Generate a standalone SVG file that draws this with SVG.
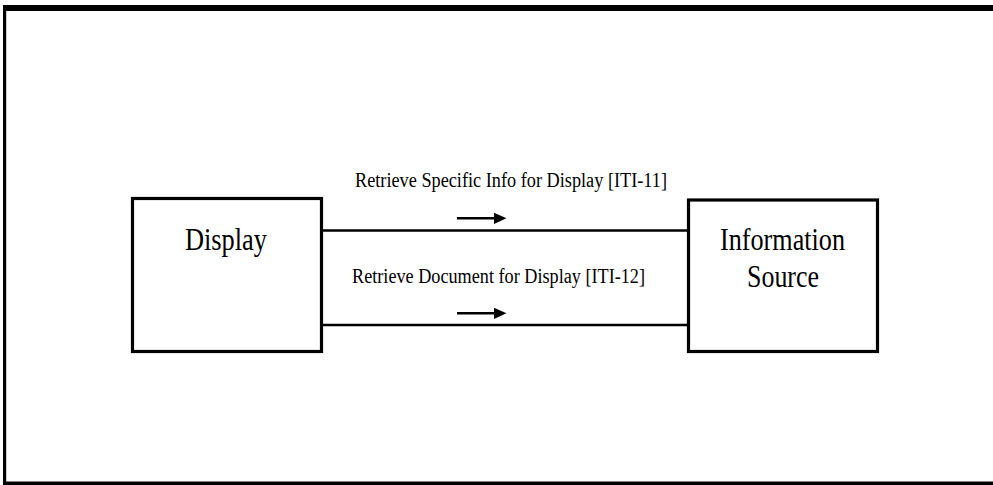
<svg xmlns="http://www.w3.org/2000/svg" width="993" height="485" viewBox="0 0 993 485">
<defs>
<marker id="ah" markerUnits="userSpaceOnUse" markerWidth="14" markerHeight="12" refX="0" refY="6" orient="auto" viewBox="0 0 14 12">
<path d="M0,0.4 L12.5,6 L0,11.6 Z" fill="#000"/>
</marker>
</defs>
<style>
.box{fill:#fff;stroke:#000;stroke-width:3.2}
.frame{fill:#000}
.big{font-family:"Liberation Serif","Times New Roman",serif;font-size:32px;fill:#000}
.lbl{font-family:"Liberation Serif","Times New Roman",serif;font-size:20px;fill:#000}
.conn{stroke:#000;stroke-width:2.6;fill:none}
.dir{stroke:#000;stroke-width:2.6;fill:none;marker-end:url(#ah)}
</style>
<rect width="993" height="485" fill="#fff"/>
<g id="frame">
<rect class="frame" x="3" y="5" width="990" height="6"/>
<rect class="frame" x="3" y="5" width="3.2" height="480"/>
<rect class="frame" x="3" y="481.5" width="990" height="3.5"/>
</g>
<g id="connectors">
<line class="conn" x1="317" y1="230.5" x2="693" y2="230.5"/>
<line class="conn" x1="321" y1="325" x2="690" y2="325"/>
<line class="dir" x1="457" y1="218.3" x2="494" y2="218.3"/>
<line class="dir" x1="457" y1="313.3" x2="494" y2="313.3"/>
<text class="lbl" x="355" y="187.3" textLength="312" lengthAdjust="spacingAndGlyphs">Retrieve Specific Info for Display [ITI-11]</text>
<text class="lbl" x="352" y="283.3" textLength="293" lengthAdjust="spacingAndGlyphs">Retrieve Document for Display [ITI-12]</text>
</g>
<g id="display">
<rect class="box" x="132.5" y="198.5" width="189" height="153"/>
<text class="big" x="185" y="250" textLength="82" lengthAdjust="spacingAndGlyphs">Display</text>
</g>
<g id="information-source">
<rect class="box" x="688.5" y="200" width="189" height="151.5"/>
<text class="big" x="720" y="250" textLength="125" lengthAdjust="spacingAndGlyphs">Information</text>
<text class="big" x="747" y="287" textLength="72" lengthAdjust="spacingAndGlyphs">Source</text>
</g>
</svg>
